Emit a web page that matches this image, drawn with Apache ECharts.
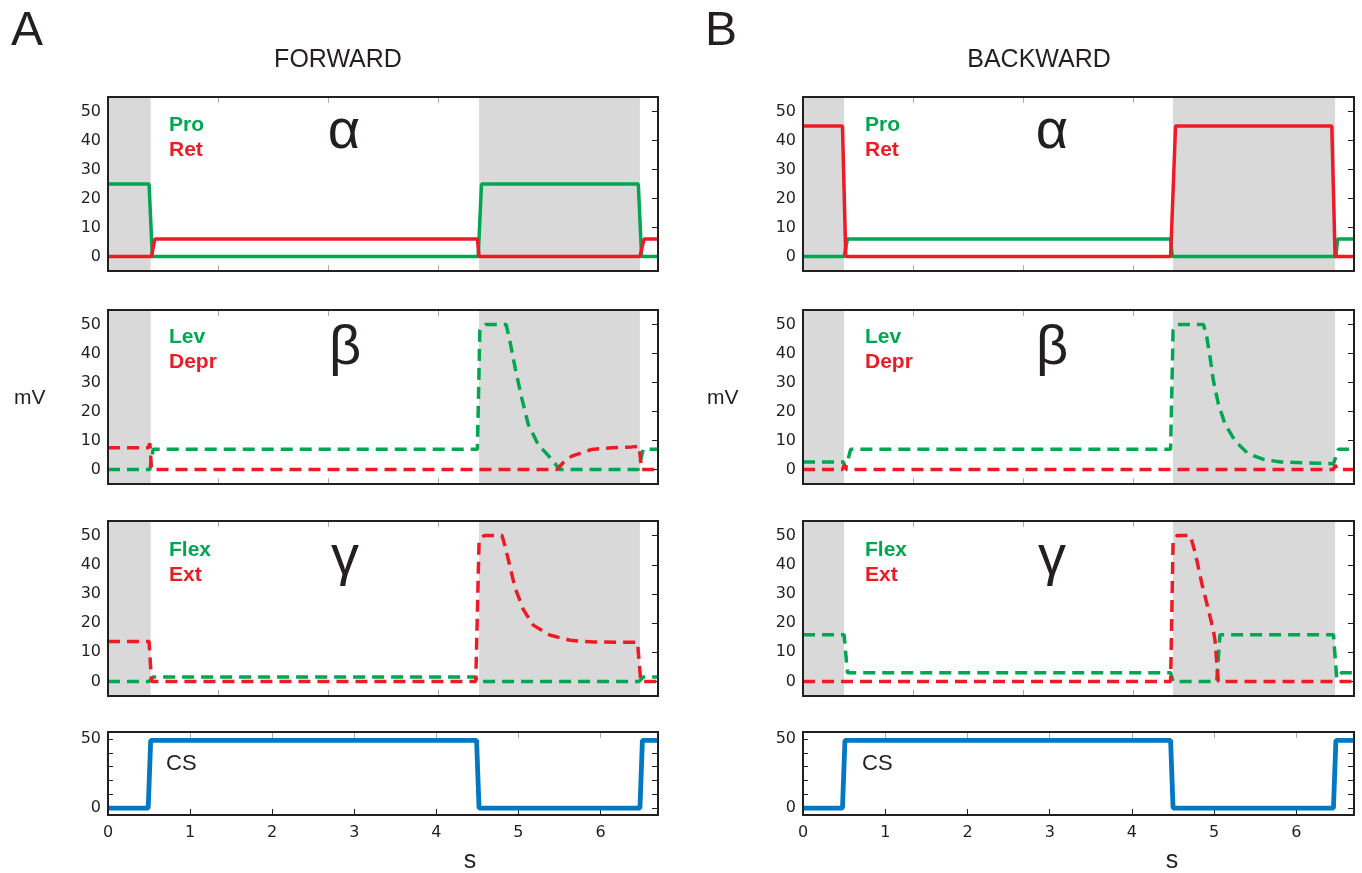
<!DOCTYPE html>
<html>
<head>
<meta charset="utf-8">
<title>Forward / backward</title>
<script src="https://cdn.jsdelivr.net/npm/echarts@6/dist/echarts.min.js"></script>
<style>
  html, body { margin: 0; padding: 0; background: #fff; }
  #chart { width: 1362px; height: 873px; }
</style>
</head>
<body>
<div id="chart"></div>
<script>
// time axis (s) and tick values
const T_MAX = 6.7;
const xTicks = [0, 1, 2, 3, 4, 5, 6];
const stepTicks = [1.34, 2.68, 4.02, 5.36];   // upper panels are ticked every 20 steps
const yTicks = [0, 10, 20, 30, 40, 50];
const csTicks = [0, 50];

// gray shading (s)
const fwdShade = [[0, 0.52], [4.52, 6.48]];
const bwdShade = [[0, 0.5], [4.5, 6.47]];

// FORWARD  [t, mV]
const fwdPro = [[0, 25], [0.5, 25], [0.54, 0], [4.51, 0], [4.55, 25], [6.46, 25], [6.5, 0], [6.7, 0]];
const fwdRet = [[0, 0], [0.53, 0], [0.57, 6], [4.5, 6], [4.52, 0], [6.48, 0], [6.53, 6], [6.7, 6]];
const fwdLev = [[0, 0], [0.51, 0], [0.55, 7], [4.5, 7], [4.53, 48], [4.6, 50], [4.85, 50], [4.9, 43.7], [4.96, 35],
  [5.04, 24.7], [5.12, 15.5], [5.24, 8.6], [5.37, 4.6], [5.47, 1.2], [5.5, 0], [6.46, 0], [6.52, 7], [6.7, 7]];
const fwdDepr = [[0, 7.5], [0.49, 7.5], [0.51, 9], [0.53, 0], [5.47, 0], [5.55, 2.5], [5.65, 4.6], [5.89, 6.9],
  [6.14, 7.5], [6.38, 7.8], [6.47, 8], [6.5, 0], [6.7, 0]];
const fwdFlex = [[0, 0], [0.5, 0], [0.55, 1.5], [4.48, 1.5], [4.5, 0], [6.47, 0], [6.52, 1.5], [6.7, 1.5]];
const fwdExt = [[0, 13.7], [0.5, 13.7], [0.53, 0], [4.48, 0], [4.52, 48], [4.58, 50], [4.8, 50], [4.84, 46], [4.9, 39],
  [4.96, 32], [5.06, 24.6], [5.18, 19.3], [5.38, 15.9], [5.63, 14.1], [5.92, 13.5], [6.45, 13.4], [6.49, 0], [6.7, 0]];
const fwdCS = [[0, 0], [0.49, 0], [0.52, 49], [4.49, 49], [4.52, 0], [6.48, 0], [6.51, 49], [6.7, 49]];

// BACKWARD  [t, mV]
const bwdPro = [[0, 0], [0.5, 0], [0.54, 6], [4.47, 6], [4.49, 0], [6.48, 0], [6.5, 6], [6.7, 6]];
const bwdRet = [[0, 45], [0.48, 45], [0.52, 0], [4.47, 0], [4.53, 45], [6.43, 45], [6.47, 0], [6.7, 0]];
const bwdLev = [[0, 2.6], [0.49, 2.6], [0.52, 0.5], [0.58, 7], [4.47, 7], [4.5, 48], [4.55, 50], [4.87, 50],
  [4.91, 45.6], [4.95, 38.7], [4.99, 30.7], [5.05, 22.7], [5.13, 15.8], [5.25, 10], [5.41, 5.5], [5.61, 3.4],
  [5.81, 2.6], [6.13, 2.3], [6.45, 2], [6.51, 7], [6.7, 7]];
const bwdDepr = [[0, 0], [0.48, 0], [0.5, 1.5], [0.53, 0], [6.45, 0], [6.47, 1.5], [6.5, 0], [6.7, 0]];
const bwdFlex = [[0, 16], [0.5, 16], [0.54, 3], [4.47, 3], [4.5, 0], [5.03, 0], [5.07, 16], [6.45, 16], [6.49, 1],
  [6.55, 3], [6.7, 3]];
const bwdExt = [[0, 0], [4.47, 0], [4.5, 48], [4.55, 50], [4.71, 50], [4.77, 44], [4.85, 33.5], [4.93, 24.5],
  [4.99, 17.5], [5.01, 14], [5.05, 0], [6.7, 0]];
const bwdCS = [[0, 0], [0.48, 0], [0.51, 49], [4.47, 49], [4.5, 0], [6.45, 0], [6.48, 49], [6.7, 49]];

const GREEN = '#00a651';
const RED = '#ed1c24';
const BLUE = '#0079c2';
const INK = '#231f20';
const GRAY = '#d9d9d9';

const colLeft = [108, 803];
const colWidth = [550, 551];
const rowTop = [97, 310, 521, 732];
const rowHeight = [174, 174, 175, 83];

// each panel: column, row, traces
const panels = [
  { col: 0, row: 0, shade: fwdShade, lines: [[fwdPro, GREEN, false], [fwdRet, RED, false]] },
  { col: 0, row: 1, shade: fwdShade, lines: [[fwdLev, GREEN, true], [fwdDepr, RED, true]] },
  { col: 0, row: 2, shade: fwdShade, lines: [[fwdFlex, GREEN, true], [fwdExt, RED, true]] },
  { col: 0, row: 3, shade: null, lines: [[fwdCS, BLUE, false]] },
  { col: 1, row: 0, shade: bwdShade, lines: [[bwdPro, GREEN, false], [bwdRet, RED, false]] },
  { col: 1, row: 1, shade: bwdShade, lines: [[bwdLev, GREEN, true], [bwdDepr, RED, true]] },
  { col: 1, row: 2, shade: bwdShade, lines: [[bwdFlex, GREEN, true], [bwdExt, RED, true]] },
  { col: 1, row: 3, shade: null, lines: [[bwdCS, BLUE, false]] }
];

const labelFont = { color: INK, fontSize: 16, fontFamily: 'DejaVu Sans' };

let grid = [], xAxis = [], yAxis = [], series = [];

panels.forEach(function (p, i) {
  const isCS = p.row === 3;
  grid.push({
    left: colLeft[p.col], top: rowTop[p.row], width: colWidth[p.col], height: rowHeight[p.row],
    show: true, borderColor: INK, borderWidth: 2, backgroundColor: 'transparent', z: 5
  });
  // bottom and top x axes
  xAxis.push({
    type: 'value', gridIndex: i, min: 0, max: T_MAX, position: 'bottom',
    axisLine: { show: false, onZero: false },
    axisTick: { show: true, inside: true, length: 6, customValues: isCS ? xTicks : stepTicks,
      lineStyle: { color: isCS ? INK : '#aaaaaa', width: 1 } },
    axisLabel: Object.assign({ show: isCS, customValues: xTicks, margin: 10 }, labelFont),
    splitLine: { show: false }
  });
  xAxis.push({
    type: 'value', gridIndex: i, min: 0, max: T_MAX, position: 'top',
    axisLine: { show: false, onZero: false },
    axisTick: { show: true, inside: true, length: 6, customValues: isCS ? xTicks : stepTicks,
      lineStyle: { color: '#aaaaaa', width: 1 } },
    axisLabel: { show: false },
    splitLine: { show: false }
  });
  // left and right y axes
  yAxis.push({
    type: 'value', gridIndex: i, min: -5, max: 55, position: 'left',
    axisLine: { show: false, onZero: false },
    axisTick: { show: true, inside: true, length: 5, customValues: yTicks, lineStyle: { color: INK, width: 1 } },
    axisLabel: Object.assign({ customValues: isCS ? csTicks : yTicks, margin: 7 }, labelFont),
    splitLine: { show: false }
  });
  yAxis.push({
    type: 'value', gridIndex: i, min: -5, max: 55, position: 'right',
    axisLine: { show: false, onZero: false },
    axisTick: { show: true, inside: true, length: 6, customValues: yTicks, lineStyle: { color: INK, width: 1 } },
    axisLabel: { show: false },
    splitLine: { show: false }
  });

  if (p.shade) {
    series.push({
      type: 'line', xAxisIndex: 2 * i, yAxisIndex: 2 * i, data: [], z: 1, silent: true,
      markArea: {
        silent: true,
        itemStyle: { color: GRAY },
        data: p.shade.map(function (s) { return [{ xAxis: s[0] }, { xAxis: s[1] }]; })
      }
    });
  }
  p.lines.forEach(function (l) {
    series.push({
      type: 'line', xAxisIndex: 2 * i, yAxisIndex: 2 * i, data: l[0],
      showSymbol: false, symbol: 'none', silent: true, z: 3,
      lineStyle: { color: l[1], width: isCS ? 4.8 : 3.5, type: l[2] ? [12, 7] : 'solid', cap: 'butt' }
    });
  });
});

function txt(text, x, y, size, color, weight, align) {
  return {
    type: 'text', x: x, y: y, silent: true, z: 20,
    style: {
      text: text, fill: color || INK, fontSize: size, fontWeight: weight || 'normal',
      fontFamily: 'Liberation Sans', align: align || 'left', verticalAlign: 'middle'
    }
  };
}

const graphic = [
  txt('A', 11, 32, 48),
  txt('B', 705, 32, 48),
  txt('FORWARD', 338, 60, 25, INK, 'normal', 'center'),
  txt('BACKWARD', 1039, 60, 25, INK, 'normal', 'center'),
  txt('mV', 14, 398, 21),
  txt('mV', 707, 398, 21),
  txt('s', 470, 861, 25, INK, 'normal', 'center'),
  txt('s', 1172, 861, 25, INK, 'normal', 'center'),

  txt('Pro', 169, 125, 21, GREEN, 'bold'),
  txt('Ret', 169, 150, 21, RED, 'bold'),
  txt('α', 344, 133, 56, INK, 'normal', 'center'),
  txt('Lev', 169, 337, 21, GREEN, 'bold'),
  txt('Depr', 169, 362, 21, RED, 'bold'),
  txt('β', 345, 349, 56, INK, 'normal', 'center'),
  txt('Flex', 169, 550, 21, GREEN, 'bold'),
  txt('Ext', 169, 575, 21, RED, 'bold'),
  txt('γ', 345, 559, 56, INK, 'normal', 'center'),
  txt('CS', 166, 764, 22),

  txt('Pro', 865, 125, 21, GREEN, 'bold'),
  txt('Ret', 865, 150, 21, RED, 'bold'),
  txt('α', 1052, 133, 56, INK, 'normal', 'center'),
  txt('Lev', 865, 337, 21, GREEN, 'bold'),
  txt('Depr', 865, 362, 21, RED, 'bold'),
  txt('β', 1052, 349, 56, INK, 'normal', 'center'),
  txt('Flex', 865, 550, 21, GREEN, 'bold'),
  txt('Ext', 865, 575, 21, RED, 'bold'),
  txt('γ', 1052, 559, 56, INK, 'normal', 'center'),
  txt('CS', 862, 764, 22)
];

const myChart = echarts.init(document.getElementById('chart'));
myChart.setOption({
  animation: false,
  backgroundColor: '#ffffff',
  grid: grid,
  xAxis: xAxis,
  yAxis: yAxis,
  series: series,
  graphic: graphic
});
</script>
</body>
</html>
